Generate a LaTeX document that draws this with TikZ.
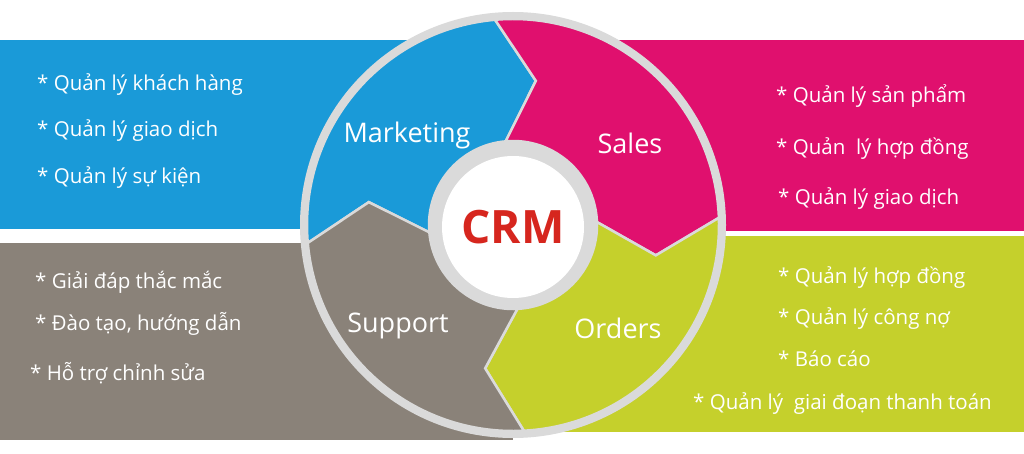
\documentclass[tikz,border=0pt]{standalone}
\usepackage{fontspec}
\setmainfont{Open Sans}
\definecolor{cblue}{HTML}{1A9AD8}
\definecolor{cpink}{HTML}{E0106E}
\definecolor{cgray}{HTML}{8A8279}
\definecolor{cgreen}{HTML}{C5D02C}
\definecolor{cring}{HTML}{DADADA}
\definecolor{cred}{HTML}{D6261E}
\tikzset{
 seg/.style={draw=cring,line width=2.5pt,line join=miter},
 item/.style={anchor=west,text=white,font=\fontsize{20.5}{22}\selectfont,inner sep=0},
 lab/.style={text=white,font=\fontsize{27}{30}\selectfont,inner sep=0}
}
\newcommand{\mysegment}[3]{% start, end, color
 \fill[#3] (#1:206) arc[start angle=#1,end angle=#2,radius=206] -- (#2-14:146) -- (#2:84) arc[start angle=#2,end angle=#1,radius=84] -- (#1-14:146) -- cycle;
 \draw[seg] (#1:206) arc[start angle=#1,end angle=#2,radius=206] -- (#2-14:146) -- (#2:84) arc[start angle=#2,end angle=#1,radius=84] -- (#1-14:146) -- cycle;
}
\begin{document}
\begin{tikzpicture}[x=1pt,y=1pt]
\useasboundingbox (0,0) rectangle (1024,-454);
\fill[white] (0,0) rectangle (1024,-454);
\fill[cblue] (0,-40) rectangle (513,-229);
\fill[cpink] (513,-40) rectangle (1024,-231);
\fill[cgray] (0,-243) rectangle (513,-440);
\fill[cgreen] (513,-236) rectangle (1024,-432);
\begin{scope}[shift={(513,-225)}]
 \fill[cring] (0,0) circle[radius=213];
 \mysegment{185}{95}{cblue}
 \mysegment{95}{2}{cpink}
 \mysegment{2}{-87}{cgreen}
 \mysegment{-87}{-175}{cgray}
 \fill[cring] (0,0) circle[radius=84];
 \node[circle,fill=white,minimum size=142pt,inner sep=0,text=cred,font=\fontsize{46}{50}\selectfont\bfseries] (crm) at (0,-2) {CRM};
\end{scope}
\node[lab] (mk) at (407,-135) {Marketing};
\node[lab] (sa) at (630,-143) {Sales};
\node[lab] (su) at (398,-326) {Support};
\node[lab] (or) at (618,-328) {Orders};
\node[item] (b1) at (37,-85) {* Quản lý khách hàng};
\node[item] (b2) at (37,-131) {* Quản lý giao dịch};
\node[item] (b3) at (37,-178) {* Quản lý sự kiện};
\node[item] (p1) at (776,-96) {* Quản lý sản phẩm};
\node[item] (p2) at (776,-149) {* Quản\ \ lý hợp đồng};
\node[item] (p3) at (778,-199) {* Quản lý giao dịch};
\node[item] (g1) at (35,-282) {* Giải đáp thắc mắc};
\node[item] (g2) at (35,-324) {* Đào tạo, hướng dẫn};
\node[item] (g3) at (30,-373) {* Hỗ trợ chỉnh sửa};
\node[item] (l1) at (778,-278) {* Quản lý hợp đồng};
\node[item] (l2) at (778,-319) {* Quản lý công nợ};
\node[item] (l3) at (778,-359) {* Báo cáo};
\node[item] (l4) at (693,-404) {* Quản lý\ \ giai đoạn thanh toán};
\end{tikzpicture}
\end{document}
